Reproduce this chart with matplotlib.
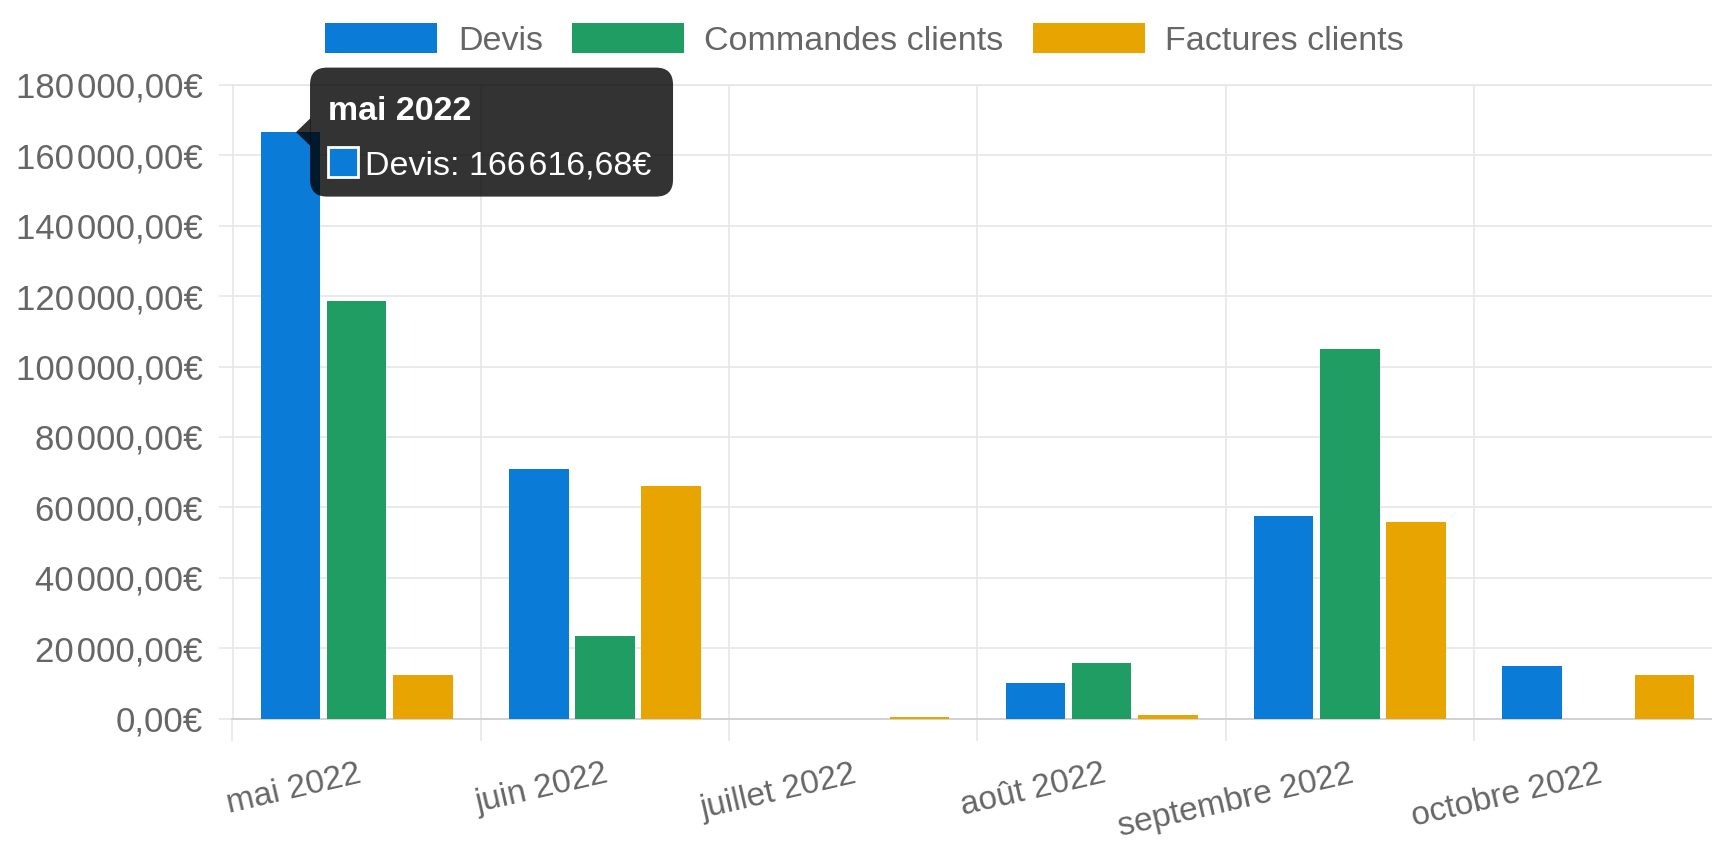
import matplotlib
matplotlib.use("Agg")
import matplotlib.pyplot as plt
import numpy as np
from matplotlib.patches import FancyBboxPatch, Polygon, Rectangle
from matplotlib.transforms import IdentityTransform

# --- données ---
months = ["mai 2022", "juin 2022", "juillet 2022", "août 2022", "septembre 2022", "octobre 2022"]
series_names = ["Devis", "Commandes clients", "Factures clients"]
devis = [166616.68, 70900, 0, 9950, 57500, 14900]
commandes = [118700, 23300, 0, 15850, 105050, 0]
factures = [12400, 66200, 450, 900, 55900, 12400]
colors = ["#0a7bd6", "#1f9d62", "#e8a400"]
y_ticks = np.arange(0, 180001, 20000)

tooltip_month = 0   # mai 2022
tooltip_series = 0  # Devis

plt.rcParams["font.family"] = ["Liberation Sans", "DejaVu Sans"]
TXT = "#666666"
GRID = "#e6e6e6"


def euro(v):
    s = f"{v:,.2f}"
    return s.replace(",", "\u200a").replace(".", ",") + "€"


W, H = 1712, 841
fig = plt.figure(figsize=(W / 100, H / 100), dpi=100, facecolor="white")
# la zone de tracé dépasse à droite (capture coupée)
ax = fig.add_axes([232.5 / W, (H - 718.5) / H, 6 * 248.3 / W, (718.5 - 85) / H])

x = np.arange(len(months))
slot = 0.8 / 3
width = slot * 0.9
all_series = [devis, commandes, factures]
for i, (vals, name, c) in enumerate(zip(all_series, series_names, colors)):
    ax.bar(x + (i - 1) * slot, vals, width=width, color=c, label=name, zorder=3)

ax.set_xlim(-0.5, len(months) - 0.5)
ax.set_ylim(0, 180000)
ax.set_yticks(y_ticks)
ax.set_yticklabels([euro(v) for v in y_ticks])
ax.set_xticks(x)
ax.set_xticklabels(months, rotation=13, ha="right", va="top", rotation_mode="anchor")
ax.set_xticks(np.arange(-0.5, len(months)), minor=True)
ax.tick_params(axis="x", which="major", length=0, pad=29, labelsize=24, labelcolor=TXT)
ax.tick_params(axis="x", which="minor", length=16, width=1.2, color=GRID)
ax.tick_params(axis="y", length=10, width=1.2, color=GRID, pad=11.5, labelsize=25, labelcolor=TXT)
ax.grid(axis="y", which="major", color=GRID, lw=1.2)
ax.grid(axis="x", which="minor", color=GRID, lw=1.2)
ax.set_axisbelow(True)
for s in ["top", "right", "left"]:
    ax.spines[s].set_color(GRID)
    ax.spines[s].set_linewidth(1.2)
ax.spines["bottom"].set_color("#d2d2d2")
ax.spines["bottom"].set_linewidth(1.4)

ax.legend(loc="center", bbox_to_anchor=(0.505, 1 - 40 / H), bbox_transform=fig.transFigure,
          ncol=3, frameon=False, fontsize=24.5, handlelength=3.3, handleheight=0.95,
          handletextpad=0.6, columnspacing=0.85, labelcolor=TXT)

# --- infobulle (tooltip) ---
bx = x[tooltip_month] + (tooltip_series - 1) * slot
val = all_series[tooltip_series][tooltip_month]
ax_x, ax_y = ax.transData.transform((bx, val))
tip_x = ax_x + 5.6
bl = tip_x + 14
bt = ax_y + 64.5
bw, bh = 363, 129
ident = IdentityTransform()
box = FancyBboxPatch((bl, bt - bh), bw, bh, boxstyle="round,pad=0,rounding_size=17",
                     facecolor=(0, 0, 0, 0.8), edgecolor="none", transform=ident, zorder=10)
fig.patches.append(box)
caret = Polygon([[tip_x, ax_y], [bl + 0.5, ax_y + 14], [bl + 0.5, ax_y - 14]], closed=True,
                facecolor=(0, 0, 0, 0.8), edgecolor="none", transform=ident, zorder=10)
fig.patches.append(caret)
fig.text(bl + 18, bt - 52, months[tooltip_month], transform=ident, color="white",
         fontsize=24.5, fontweight="bold", va="baseline", ha="left", zorder=11)
sq = Rectangle((bl + 18, bt - 79 - 30), 30, 30, facecolor=colors[tooltip_series],
               edgecolor="white", linewidth=2, transform=ident, zorder=11)
fig.patches.append(sq)
fig.text(bl + 55, bt - 107, f"{series_names[tooltip_series]}: {euro(val)}", transform=ident,
         color="white", fontsize=24.5, va="baseline", ha="left", zorder=11)

fig.savefig("out.png", dpi=100, facecolor="white")
